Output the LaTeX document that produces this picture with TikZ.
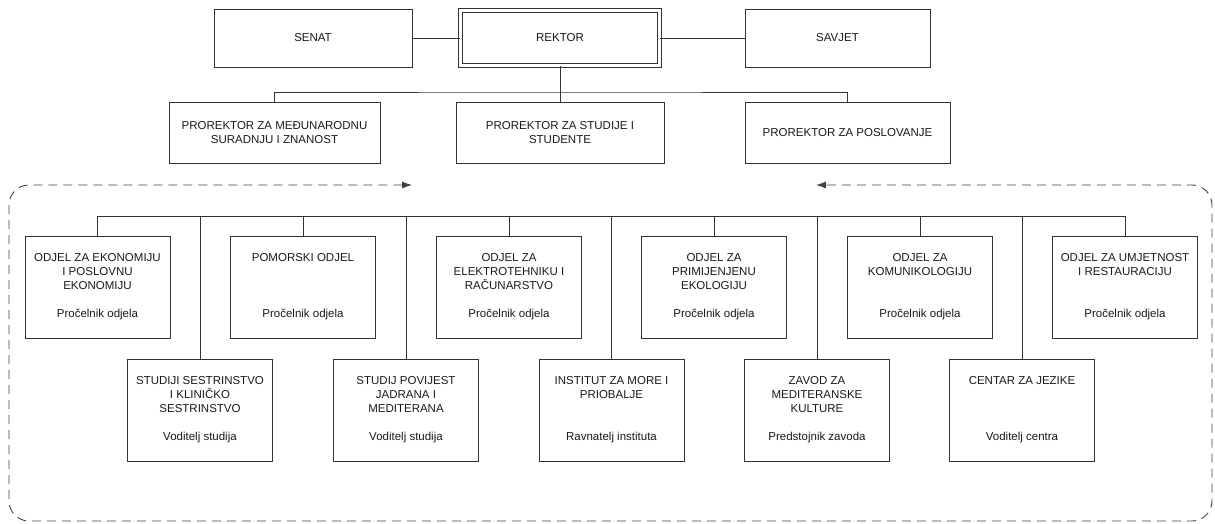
\documentclass[tikz,border=0pt]{standalone}
\usepackage{fontspec}
\setmainfont{Liberation Sans}
\usetikzlibrary{positioning,arrows.meta}

\begin{document}
\begin{tikzpicture}[x=1pt,y=-1pt,
    box/.style={draw=black!80,line width=0.9pt,minimum width=#1,minimum height=58pt,
        inner sep=2pt,align=center,text=black!90,font=\fontsize{11.5}{14}\selectfont},
    unit/.style={draw=black!80,line width=0.9pt,minimum width=145pt,minimum height=102pt},
    ttl/.style={inner sep=0pt,align=center,text=black!90,font=\fontsize{11.5}{14}\selectfont},
    sub/.style={inner sep=0pt,anchor=base,text=black!90,font=\fontsize{11.5}{14}\selectfont},
    link/.style={draw=black!80,line width=0.9pt},
    frame/.style={draw=black!75,line width=0.9pt,dash pattern=on 9pt off 6pt,
        rounded corners=20pt,{Latex[length=10pt,width=7pt]}-{Latex[length=10pt,width=7pt]}}]
    \useasboundingbox (0,0) rectangle (1215,523);

    % Top: senate, rector, council
    \node[box=198pt] (senat) at (313,38) {SENAT};
    \node[box=199pt,minimum height=55pt,double,double distance=2.4pt] (rektor) at (560,38) {REKTOR};
    \node[box=185pt] (savjet) at (837.5,38) {SAVJET};
    \draw[link] (senat) -- (rektor);
    \draw[link] (rektor) -- (savjet);

    % Vice-rectors
    \node[box=211pt,minimum height=61pt] (prm) at (274.5,132.5) {PROREKTOR ZA MEĐUNARODNU\\SURADNJU I ZNANOST};
    \node[box=208pt,minimum height=61pt] (prs) at (560,132.5) {PROREKTOR ZA STUDIJE I\\STUDENTE};
    \node[box=205pt,minimum height=61pt] (prp) at (847.5,132.5) {PROREKTOR ZA POSLOVANJE};
    \coordinate (top bus) at (560,92);
    \draw[link] (rektor) -- (prs);
    \draw[link] (prm.north) |- (top bus) -| (prp.north);

    % Departments (upper row)
    \node[unit] (o1) at (97.5,287) {};
    \node[ttl,below=17.5pt of o1.north] {ODJEL ZA EKONOMIJU\\I POSLOVNU\\EKONOMIJU};
    \node[sub] at ([yshift=-82pt]o1.north) {Pročelnik odjela};
    \node[unit] (o2) at (303,287) {};
    \node[ttl,below=17.5pt of o2.north] {POMORSKI ODJEL};
    \node[sub] at ([yshift=-82pt]o2.north) {Pročelnik odjela};
    \node[unit] (o3) at (509,287) {};
    \node[ttl,below=17.5pt of o3.north] {ODJEL ZA\\ELEKTROTEHNIKU I\\RAČUNARSTVO};
    \node[sub] at ([yshift=-82pt]o3.north) {Pročelnik odjela};
    \node[unit] (o4) at (714,287) {};
    \node[ttl,below=17.5pt of o4.north] {ODJEL ZA\\PRIMIJENJENU\\EKOLOGIJU};
    \node[sub] at ([yshift=-82pt]o4.north) {Pročelnik odjela};
    \node[unit] (o5) at (920,287) {};
    \node[ttl,below=17.5pt of o5.north] {ODJEL ZA\\KOMUNIKOLOGIJU};
    \node[sub] at ([yshift=-82pt]o5.north) {Pročelnik odjela};
    \node[unit] (o6) at (1125,287) {};
    \node[ttl,below=17.5pt of o6.north] {ODJEL ZA UMJETNOST\\I RESTAURACIJU};
    \node[sub] at ([yshift=-82pt]o6.north) {Pročelnik odjela};

    % Studies, institutes, centres (lower row)
    \node[unit] (s1) at (200,410) {};
    \node[ttl,below=17.5pt of s1.north] {STUDIJI SESTRINSTVO\\I KLINIČKO\\SESTRINSTVO};
    \node[sub] at ([yshift=-82pt]s1.north) {Voditelj studija};
    \node[unit] (s2) at (406,410) {};
    \node[ttl,below=17.5pt of s2.north] {STUDIJ POVIJEST\\JADRANA I\\MEDITERANA};
    \node[sub] at ([yshift=-82pt]s2.north) {Voditelj studija};
    \node[unit] (s3) at (611.5,410) {};
    \node[ttl,below=17.5pt of s3.north] {INSTITUT ZA MORE I\\PRIOBALJE};
    \node[sub] at ([yshift=-82pt]s3.north) {Ravnatelj instituta};
    \node[unit] (s4) at (817,410) {};
    \node[ttl,below=17.5pt of s4.north] {ZAVOD ZA\\MEDITERANSKE\\KULTURE};
    \node[sub] at ([yshift=-82pt]s4.north) {Predstojnik zavoda};
    \node[unit] (s5) at (1022,410) {};
    \node[ttl,below=17.5pt of s5.north] {CENTAR ZA JEZIKE};
    \node[sub] at ([yshift=-82pt]s5.north) {Voditelj centra};

    % Bus line to all units
    \coordinate (bus) at (0,216);
    \draw[link] (o1.north) |- (bus -| o6.north) -- (o6.north);
    \foreach \n in {o2,o3,o4,o5,s1,s2,s3,s4,s5}
        \draw[link] (\n.north) -- (\n.north |- bus);

    % Dashed frame with arrows
    \coordinate (in left) at (412,185);
    \coordinate (in right) at (816,185);
    \draw[frame] (in left) -- (9,185) -- (9,521) -- (1212,521) -- (1212,185) -- (in right);
\end{tikzpicture}
\end{document}
